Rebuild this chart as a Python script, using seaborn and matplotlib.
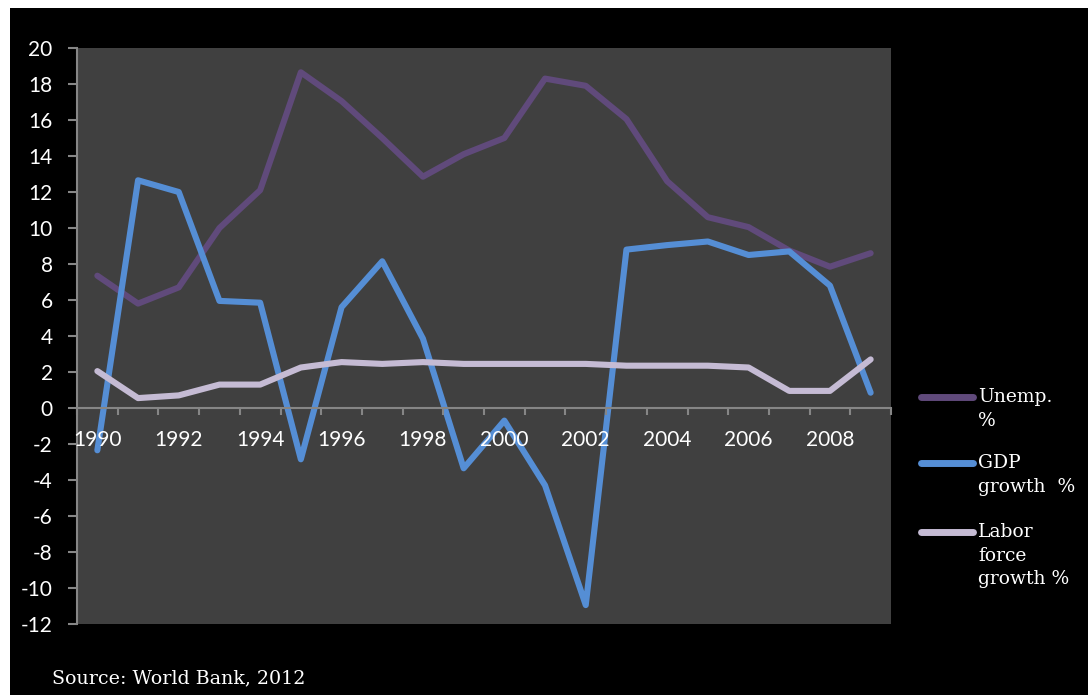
import matplotlib
matplotlib.use("Agg")
import matplotlib.pyplot as plt
from matplotlib.lines import Line2D
from matplotlib.patches import Rectangle
from matplotlib.ticker import FixedLocator, MultipleLocator
import numpy as np
import pandas as pd
import seaborn as sns

years = list(range(1990, 2010))
unemployment = [7.35, 5.8, 6.7, 10.0, 12.1, 18.65, 17.05, 15.0, 12.85, 14.1,
                15.0, 18.3, 17.9, 16.05, 12.6, 10.6, 10.05, 8.75, 7.85, 8.6]
gdp_growth = [-2.35, 12.65, 12.0, 5.95, 5.85, -2.85, 5.6, 8.15, 3.85, -3.35,
              -0.7, -4.3, -10.95, 8.8, 9.05, 9.25, 8.5, 8.7, 6.8, 0.85]
labor_growth = [2.05, 0.55, 0.7, 1.3, 1.3, 2.25, 2.55, 2.45, 2.55, 2.45,
                2.45, 2.45, 2.45, 2.35, 2.35, 2.35, 2.25, 0.95, 0.95, 2.7]
series_names = ["Unemp.\n%", "GDP\ngrowth  %", "Labor\nforce\ngrowth %"]
series_colors = ["#604A7B", "#558ED5", "#C5BBD4"]
x_labels = [str(y) for y in range(1990, 2010, 2)]
source_note = "Source: World Bank, 2012"

df = pd.DataFrame({
    "year": years * 3,
    "value": unemployment + gdp_growth + labor_growth,
    "series": [series_names[0]] * len(years) + [series_names[1]] * len(years)
              + [series_names[2]] * len(years),
})

sns.set_theme(style="dark")
plt.rcParams["font.family"] = ["Lato", "DejaVu Sans"]
plt.rcParams["axes.unicode_minus"] = False

fig = plt.figure(figsize=(10.88, 6.95), dpi=100, facecolor="white")
# black panel with a thin white border on the top and left
fig.patches.append(Rectangle((10 / 1088, 0), 1 - 10 / 1088, 1 - 8 / 695,
                             transform=fig.transFigure, facecolor="black",
                             edgecolor="none", zorder=-10))

ax = fig.add_axes([77 / 1088, 1 - 624 / 695, (891 - 77) / 1088, (624 - 48) / 695])
ax.set_facecolor("#404040")

sns.lineplot(data=df, x="year", y="value", hue="series", palette=series_colors,
             hue_order=series_names, ax=ax, legend=False, linewidth=4.4,
             solid_capstyle="round", solid_joinstyle="round")

ax.set_xlim(1989.5, 2009.5)
ax.set_ylim(-12, 20)
ax.set_xlabel("")
ax.set_ylabel("")
ax.grid(False)
ax.set_axisbelow(False)

spine_col = "#868686"
for side in ["top", "right"]:
    ax.spines[side].set_visible(False)
ax.spines["left"].set_color(spine_col)
ax.spines["left"].set_linewidth(1.5)
ax.spines["bottom"].set_color(spine_col)
ax.spines["bottom"].set_linewidth(1.5)
ax.spines["bottom"].set_position(("data", 0))

ax.yaxis.set_major_locator(MultipleLocator(2))
ax.tick_params(axis="y", which="major", direction="out", length=6.5, width=1.5,
               color=spine_col, labelcolor="white", labelsize=15, pad=11, left=True)

ax.xaxis.set_major_locator(FixedLocator(list(range(1990, 2010, 2))))
ax.set_xticklabels(x_labels)
ax.xaxis.set_minor_locator(FixedLocator(list(np.arange(1989.5, 2010, 1.0))))
ax.tick_params(axis="x", which="major", length=0, labelcolor="white",
               labelsize=15, pad=16, bottom=True)
ax.tick_params(axis="x", which="minor", direction="out", length=5, width=1.5,
               color=spine_col, bottom=True)

# legend drawn beside the plot, swatch level with the first text line
legend_rows = [397, 463, 532]
for name, col, ypix in zip(series_names, series_colors, legend_rows):
    yf = 1 - ypix / 695
    fig.add_artist(Line2D([921 / 1088, 973 / 1088], [yf, yf], color=col,
                          linewidth=5.0, solid_capstyle="round",
                          transform=fig.transFigure))
    fig.text(978 / 1088, 1 - (ypix - 9) / 695, name, color="white",
             family="DejaVu Serif", fontsize=13.5, va="top", ha="left",
             linespacing=1.4)

fig.text(52 / 1088, 1 - 683 / 695, source_note, color="white",
         family="DejaVu Serif", fontsize=13.7, va="baseline", ha="left")

fig.savefig("out.png", dpi=100, facecolor=fig.get_facecolor())
